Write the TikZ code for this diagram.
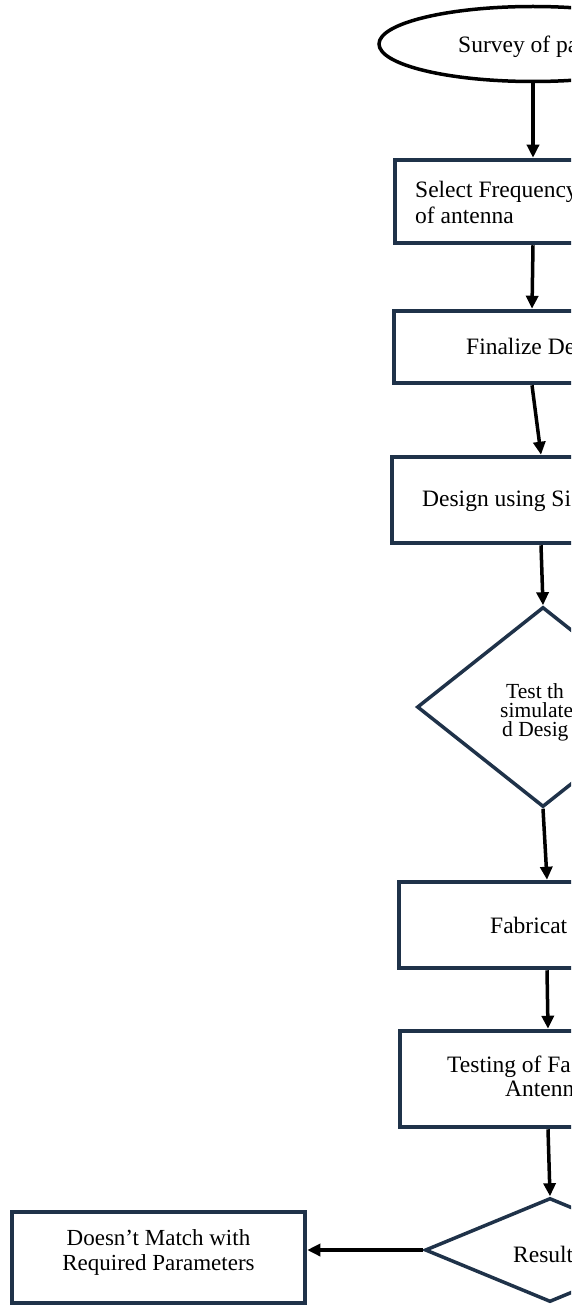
\documentclass[tikz,border=0pt]{standalone}
\usepackage{fontspec}
\setmainfont{Liberation Serif}
\usetikzlibrary{shapes.geometric,arrows.meta}
\definecolor{frame}{HTML}{1F3249}
\begin{document}
\begin{tikzpicture}[x=1pt,y=-1pt,
  box/.style={draw=frame,line width=4.5pt,rectangle,inner sep=0pt},
  dia/.style={draw=frame,line width=3.5pt,diamond,inner sep=0pt},
  oval/.style={draw=black,line width=3.5pt,ellipse,inner sep=0pt},
  arr/.style={draw=black,line width=3.5pt,-{Triangle[length=13pt,width=12pt]}},
  txt/.style={font=\fontsize{23.5}{26}\selectfont,inner sep=0pt,anchor=base west,text=black},
  dtxt/.style={font=\fontsize{21.5}{19}\selectfont,inner sep=0pt,anchor=base west,text=black},
]
\path[use as bounding box,clip] (0,0) rectangle (571,1308);
% shapes
\node[oval,minimum width=308pt,minimum height=75pt] (e) at (533,44) {};
\node[box,minimum width=276pt,minimum height=83pt] (b1) at (533,201.5) {};
\node[box,minimum width=276pt,minimum height=72pt] (b2) at (532,347) {};
\node[box,minimum width=298pt,minimum height=86pt] (b3) at (541,500) {};
\node[dia,minimum width=252pt,minimum height=200pt] (d1) at (543,707) {};
\node[box,minimum width=296pt,minimum height=86pt] (b4) at (547,925) {};
\node[box,minimum width=296pt,minimum height=96pt] (b5) at (548,1079) {};
\node[dia,minimum width=250pt,minimum height=104pt] (d2) at (550,1250) {};
\node[box,minimum width=293pt,minimum height=91pt] (b6) at (158.5,1257.5) {};
% texts
\node[txt] (t0) at (458,53) {Survey of pa};
\node[txt] (t1a) at (415,197) {Select Frequency};
\node[txt] (t1b) at (415,223) {of antenna};
\node[txt] (t2) at (466,354) {Finalize De};
\node[txt] (t3) at (422,506) {Design using Si};
\node[dtxt] (t4a) at (506,698) {Test th};
\node[dtxt] (t4b) at (500,717) {simulate};
\node[dtxt] (t4c) at (502,736) {d Desig};
\node[txt] (t5) at (490,933) {Fabricat};
\node[txt] (t6a) at (447,1072) {Testing of Fa};
\node[txt] (t6b) at (505,1096) {Antenn};
\node[txt] (t7) at (513,1262) {Result};
\node[txt,font=\fontsize{23}{26}\selectfont,anchor=base] (t8a) at (158.5,1245) {Doesn’t Match with};
\node[txt,font=\fontsize{23}{26}\selectfont,anchor=base] (t8b) at (158.5,1270) {Required Parameters};
% connectors
\draw[arr] (e.south) -- (b1.north);
\draw[arr] (b1.south) -- (b2.north);
\draw[arr] (b2.south) -- (b3.north);
\draw[arr] (b3.south) -- (d1.north);
\draw[arr] (d1.south) -- (b4.north);
\draw[arr] (b4.south) -- (b5.north);
\draw[arr] (b5.south) -- (d2.north);
\draw[arr] (d2.west) -- (d2.west -| b6.east);
\end{tikzpicture}
\end{document}
